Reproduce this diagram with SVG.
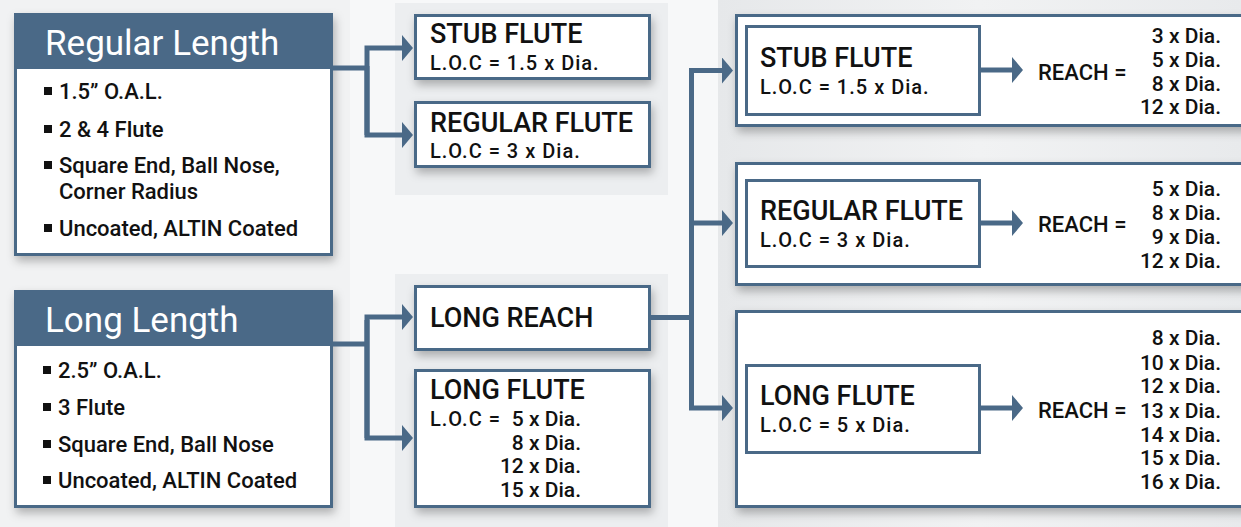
<svg xmlns="http://www.w3.org/2000/svg" width="1241" height="527" viewBox="0 0 1241 527">
<style>
text{font-family:Roboto,"Liberation Sans",Arial,sans-serif;font-weight:500;fill:#111;}
.title{font-size:35px;fill:#fff;font-weight:400;}
.bul{font-size:22px;}
.head{font-size:27px;}
.sub{font-size:20px;letter-spacing:1px;}
.num{font-size:21px;text-anchor:end;}
.reach{font-size:22px;}
.box{fill:#fff;stroke:#4a6987;stroke-width:3;}
.hdr{fill:#4a6987;}
.sq{fill:#111;}
.con{fill:none;stroke:#4a6987;stroke-width:5;stroke-linejoin:miter;}
.panel{fill:#eceef0;}
</style>
<defs>
<filter id="sh" x="-10%" y="-20%" width="130%" height="150%">
<feDropShadow dx="2" dy="5" stdDeviation="5" flood-color="#000" flood-opacity="0.28"/>
</filter>
<marker id="arr" markerUnits="userSpaceOnUse" markerWidth="12" markerHeight="28" refX="0" refY="13" orient="auto">
<path d="M0,0 L11,13 L0,26 Z" fill="#4a6987"/>
</marker>
<linearGradient id="rg" x1="0" y1="0" x2="1" y2="0">
<stop offset="0" stop-color="#e6e8ea"/>
<stop offset="0.5" stop-color="#f1f2f3"/>
<stop offset="1" stop-color="#e8eaec"/>
</linearGradient>
</defs>
<rect x="0" y="0" width="1241" height="527" fill="#f7f8f9"/>
<rect x="0" y="0" width="350" height="527" fill="#f1f2f3"/>
<rect class="panel" x="395" y="3" width="273" height="192"/>
<rect class="panel" x="395" y="274" width="273" height="253"/>
<rect x="718" y="0" width="523" height="527" fill="url(#rg)"/>

<g id="regular-length">
<rect class="box" x="15.5" y="14.5" width="316" height="240" filter="url(#sh)"/>
<rect class="hdr" x="14" y="13" width="319" height="56"/>
<text class="title" x="45" y="55">Regular Length</text>
<rect class="sq" x="44" y="87" width="8" height="8"/>
<text class="bul" x="59" y="99">1.5” O.A.L.</text>
<rect class="sq" x="44" y="125" width="8" height="8"/>
<text class="bul" x="59" y="137">2 &amp; 4 Flute</text>
<rect class="sq" x="44" y="161" width="8" height="8"/>
<text class="bul" x="59" y="173">Square End, Ball Nose,</text>
<text class="bul" x="59" y="199">Corner Radius</text>
<rect class="sq" x="44" y="224" width="8" height="8"/>
<text class="bul" x="59" y="236">Uncoated, ALTIN Coated</text>
</g>

<g id="long-length">
<rect class="box" x="15.5" y="291.5" width="316" height="215" filter="url(#sh)"/>
<rect class="hdr" x="14" y="290" width="319" height="56"/>
<text class="title" x="45" y="332">Long Length</text>
<rect class="sq" x="43" y="366" width="8" height="8"/>
<text class="bul" x="58" y="378">2.5” O.A.L.</text>
<rect class="sq" x="43" y="403" width="8" height="8"/>
<text class="bul" x="58" y="415">3 Flute</text>
<rect class="sq" x="43" y="440" width="8" height="8"/>
<text class="bul" x="58" y="452">Square End, Ball Nose</text>
<rect class="sq" x="43" y="476" width="8" height="8"/>
<text class="bul" x="58" y="488">Uncoated, ALTIN Coated</text>
</g>

<g id="stub-flute-mid">
<rect class="box" x="415.5" y="15.5" width="234" height="63" filter="url(#sh)"/>
<text class="head" x="430" y="43">STUB FLUTE</text>
<text class="sub" x="430" y="70">L.O.C = 1.5 x Dia.</text>
</g>
<g id="regular-flute-mid">
<rect class="box" x="415.5" y="102.5" width="234" height="64" filter="url(#sh)"/>
<text class="head" x="430" y="132">REGULAR FLUTE</text>
<text class="sub" x="430" y="158">L.O.C = 3 x Dia.</text>
</g>
<g id="long-reach">
<rect class="box" x="415.5" y="286.5" width="234" height="63" filter="url(#sh)"/>
<text class="head" x="430" y="327">LONG REACH</text>
</g>
<g id="long-flute-mid">
<rect class="box" x="415.5" y="370.5" width="234" height="136" filter="url(#sh)"/>
<text class="head" x="430" y="399">LONG FLUTE</text>
<text class="sub" x="430" y="426">L.O.C =</text>
<text class="num" x="581" y="426">5 x Dia.</text>
<text class="num" x="581" y="450">8 x Dia.</text>
<text class="num" x="581" y="473">12 x Dia.</text>
<text class="num" x="581" y="497">15 x Dia.</text>
</g>

<g id="stub-flute-reach">
<rect class="box" x="736.5" y="15.5" width="520" height="110" filter="url(#sh)"/>
<rect class="box" x="746.5" y="26.5" width="233" height="88"/>
<text class="head" x="760" y="67">STUB FLUTE</text>
<text class="sub" x="760" y="94">L.O.C = 1.5 x Dia.</text>
<text class="reach" x="1038" y="80">REACH =</text>
<text class="num" x="1221" y="43">3 x Dia.</text>
<text class="num" x="1221" y="67">5 x Dia.</text>
<text class="num" x="1221" y="91">8 x Dia.</text>
<text class="num" x="1221" y="114">12 x Dia.</text>
</g>
<g id="regular-flute-reach">
<rect class="box" x="736.5" y="163.5" width="520" height="121" filter="url(#sh)"/>
<rect class="box" x="746.5" y="180.5" width="233" height="86"/>
<text class="head" x="760" y="220">REGULAR FLUTE</text>
<text class="sub" x="760" y="247">L.O.C = 3 x Dia.</text>
<text class="reach" x="1038" y="232">REACH =</text>
<text class="num" x="1221" y="196">5 x Dia.</text>
<text class="num" x="1221" y="220">8 x Dia.</text>
<text class="num" x="1221" y="244">9 x Dia.</text>
<text class="num" x="1221" y="268">12 x Dia.</text>
</g>
<g id="long-flute-reach">
<rect class="box" x="736.5" y="311.5" width="520" height="195" filter="url(#sh)"/>
<rect class="box" x="746.5" y="365.5" width="233" height="87"/>
<text class="head" x="760" y="405">LONG FLUTE</text>
<text class="sub" x="760" y="432">L.O.C = 5 x Dia.</text>
<text class="reach" x="1038" y="418">REACH =</text>
<text class="num" x="1221" y="345">8 x Dia.</text>
<text class="num" x="1221" y="370">10 x Dia.</text>
<text class="num" x="1221" y="393">12 x Dia.</text>
<text class="num" x="1221" y="418">13 x Dia.</text>
<text class="num" x="1221" y="442">14 x Dia.</text>
<text class="num" x="1221" y="465">15 x Dia.</text>
<text class="num" x="1221" y="489">16 x Dia.</text>
</g>

<g id="connectors">
<path class="con" d="M333,68 H367"/>
<path class="con" d="M367,135 V48 H402" marker-end="url(#arr)"/>
<path class="con" d="M367,66 V135 H402" marker-end="url(#arr)"/>
<path class="con" d="M333,344 H367"/>
<path class="con" d="M367,438 V317 H402" marker-end="url(#arr)"/>
<path class="con" d="M367,320 V438 H402" marker-end="url(#arr)"/>
<path class="con" d="M651,317.5 H691.5"/>
<path class="con" d="M691.5,408 V70.5 H722" marker-end="url(#arr)"/>
<path class="con" d="M691.5,223 H722" marker-end="url(#arr)"/>
<path class="con" d="M691.5,72 V408 H722" marker-end="url(#arr)"/>
<path class="con" d="M981,70 H1012" marker-end="url(#arr)"/>
<path class="con" d="M981,223 H1012" marker-end="url(#arr)"/>
<path class="con" d="M981,408 H1012" marker-end="url(#arr)"/>
</g>
</svg>
